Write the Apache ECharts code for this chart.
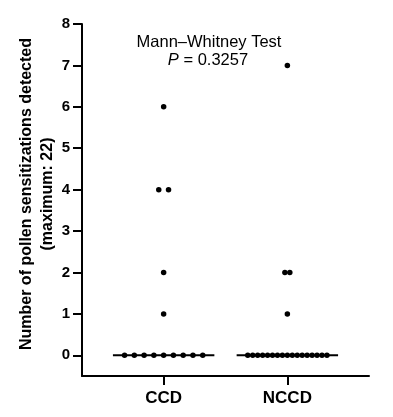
<!DOCTYPE html>
<html>
<head>
<meta charset="utf-8">
<script src="https://cdn.jsdelivr.net/npm/echarts@6/dist/echarts.min.js"></script>
<style>html,body{margin:0;padding:0;background:#fff;}#c{width:393px;height:417px;}</style>
</head>
<body>
<div id="c"></div>
<script>
// ---- data ----
const categories = ['CCD', 'NCCD'];
const ccdValues = [0, 0, 0, 0, 0, 0, 0, 0, 0, 1, 2, 4, 4, 6];
const nccdValues = [0, 0, 0, 0, 0, 0, 0, 0, 0, 0, 0, 0, 0, 0, 0, 0, 0, 1, 2, 2, 7];
const yTickValues = [0, 1, 2, 3, 4, 5, 6, 7, 8];
const testName = 'Mann\u2013Whitney Test';
const pValue = '0.3257';

// ---- layout helpers (scatter dot-plot: spread equal values sideways) ----
const FONT = '"Liberation Sans", Arial, Helvetica, sans-serif';
const groupSpacing = [0.079, 0.04]; // horizontal spacing of dots in each column (axis units)
function dotPlot(values, center, spacing) {
  const counts = {};
  values.forEach(v => { counts[v] = (counts[v] || 0) + 1; });
  const seen = {};
  return values.map(v => {
    const n = counts[v];
    const k = seen[v] = (seen[v] === undefined ? 0 : seen[v] + 1);
    return [center + (k - (n - 1) / 2) * spacing, v];
  });
}
function median(arr) {
  const s = arr.slice().sort((a, b) => a - b);
  const m = Math.floor(s.length / 2);
  return s.length % 2 ? s[m] : (s[m - 1] + s[m]) / 2;
}
const groups = [ccdValues, nccdValues];
const halfWidth = 0.41;

const series = [];
groups.forEach((vals, i) => {
  const c = i + 1;
  const med = median(vals);
  series.push({
    type: 'line', data: [[c - halfWidth, med], [c + halfWidth, med]],
    symbol: 'none', lineStyle: { color: '#000', width: 2 }, z: 2, silent: true
  });
  series.push({
    type: 'scatter', data: dotPlot(vals, c, groupSpacing[i]),
    symbol: 'circle', symbolSize: 5.5, itemStyle: { color: '#000', opacity: 1 }, z: 3
  });
});

const chart = echarts.init(document.getElementById('c'), null, { renderer: 'canvas' });
chart.setOption({
  animation: false,
  backgroundColor: '#fff',
  grid: { left: 82, right: 24, top: 24, bottom: 41, outerBoundsMode: 'none', containLabel: false },
  xAxis: {
    type: 'value', min: 0.34, max: 2.66,
    splitLine: { show: false },
    axisLine: { show: true, onZero: false, lineStyle: { color: '#000', width: 2 } },
    axisTick: { show: true, customValues: [1, 2], length: 9, lineStyle: { color: '#000', width: 2 } },
    axisLabel: {
      customValues: [1, 2], margin: 14,
      formatter: v => categories[Math.round(v) - 1] || '',
      fontFamily: FONT, fontWeight: 'bold', fontSize: 17, color: '#000'
    }
  },
  yAxis: {
    type: 'value', min: -0.5, max: 8,
    splitLine: { show: false },
    axisLine: { show: true, onZero: false, lineStyle: { color: '#000', width: 2 } },
    axisTick: { show: true, customValues: yTickValues, length: 9, lineStyle: { color: '#000', width: 2 } },
    axisLabel: {
      customValues: yTickValues, margin: 12,
      fontFamily: FONT, fontWeight: 'bold', fontSize: 15, color: '#000'
    }
  },
  graphic: [
    {
      type: 'text', x: 37.5, y: 194, rotation: Math.PI / 2,
      style: {
        text: 'Number of pollen sensitizations detected\n(maximum: 22)',
        fontFamily: FONT, fontWeight: 'bold', fontSize: 16, lineHeight: 21,
        fill: '#000', align: 'center', verticalAlign: 'middle'
      }
    },
    {
      type: 'text', x: 209, y: 42,
      style: {
        text: testName, fontFamily: FONT, fontSize: 16.5, fill: '#000',
        align: 'center', verticalAlign: 'middle'
      }
    },
    {
      type: 'text', x: 208, y: 60,
      style: {
        text: '{i|P} = ' + pValue,
        fontFamily: FONT, fontSize: 16.5, fill: '#000',
        align: 'center', verticalAlign: 'middle',
        rich: { i: { fontStyle: 'italic', fontFamily: FONT, fontSize: 16.5, fill: '#000' } }
      }
    }
  ],
  series: series
});
</script>
</body>
</html>
